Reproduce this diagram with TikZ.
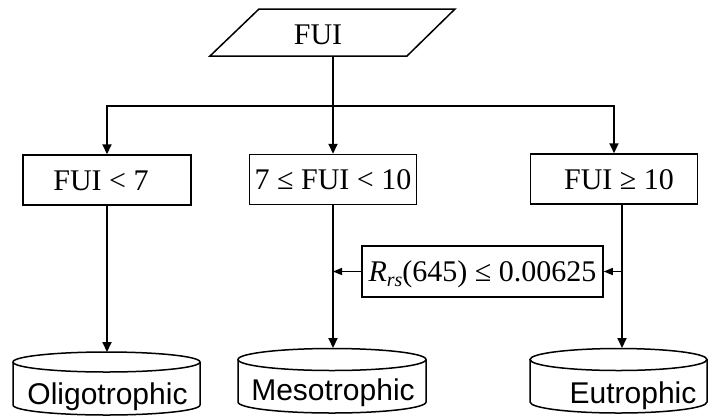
\documentclass[tikz,border=0pt]{standalone}
\usepackage{fontspec}
\setmainfont{Liberation Serif}
\setsansfont{Liberation Sans}
\usetikzlibrary{arrows.meta}
\newcommand\drawcyl[6]{%
  \draw[outline] ({(#1+#2)/2},#3) ellipse [x radius=#5pt, y radius=#6pt];
  \draw[outline] (#1,#3) -- (#1,#4) arc[start angle=180, end angle=360, x radius=#5pt, y radius=#6pt] -- (#2,#3);
}
\begin{document}
\begin{tikzpicture}[x=1pt,y=-1pt,
  conn/.style={line width=2pt, -{Triangle[length=10pt,width=9pt]}},
  connsmall/.style={line width=1.4pt, -{Triangle[length=9pt,width=7pt]}},
  plain/.style={line width=2pt},
  outline/.style={line width=1.5pt},
  serifnode/.style={inner sep=0pt, text height=20pt, text depth=0pt, font=\fontsize{30}{32}\selectfont},
  boxnode/.style={serifnode, draw, line width=1.5pt, minimum height=50pt},
  cyltext/.style={inner sep=0pt, text height=21.5pt, text depth=0pt, font=\sffamily\fontsize{30}{32}\selectfont},
]
\useasboundingbox (0,0) rectangle (709,416);

% top parallelogram
\draw[outline] (259,9) -- (455,9) -- (407,56) -- (210,56) -- cycle;
\node[serifnode] (fui) at (318,34.5) {FUI};

% condition boxes
\node[boxnode, minimum width=168pt] (b1) at (107,180) {FUI < 7\hspace*{12pt}};
\node[boxnode, minimum width=167pt] (b2) at (333,179.5) {7 ≤ FUI < 10};
\node[boxnode, minimum width=167pt] (b3) at (614,179) {\hspace*{10pt}FUI ≥ 10};
\node[boxnode, minimum width=241pt, minimum height=51pt] (r) at (482.5,271.5)
  {\textit{R}\raisebox{-5pt}{\fontsize{20}{22}\selectfont\itshape rs}(645) ≤ 0.00625};

% cylinders
\drawcyl{13}{200}{362}{405}{93.5}{10}
\drawcyl{238}{426}{359.5}{402}{94}{11}
\drawcyl{530}{707}{359.5}{402}{88.5}{11}
\node[cyltext] (c1) at (107.5,394) {Oligotrophic};
\node[cyltext] (c2) at (333,390) {Mesotrophic};
\node[cyltext] (c3) at (633,393) {Eutrophic};

% coordinates
\coordinate (fuib) at (333,56);
\coordinate (split) at (333,106);
\coordinate (b3o) at (622,203);
\coordinate (c1t) at (107,352);
\coordinate (c2t) at (333,348);
\coordinate (c3t) at (622,348);

% connectors
\draw[plain] (fuib) -- (split);
\draw[conn] (split) -| (b1.north);
\draw[conn] (split) -- (b2.north);
\draw[conn] (split) -| (b3.north);
\draw[conn] (b1.south) -- (c1t);
\draw[conn] (b2.south) -- (c2t);
\draw[conn] (b3o) -- (c3t);
\draw[connsmall] (r.east -| b3o) -- (r.east);
\draw[connsmall] (r.west) -- (r.west -| b2.south);
\end{tikzpicture}
\end{document}
